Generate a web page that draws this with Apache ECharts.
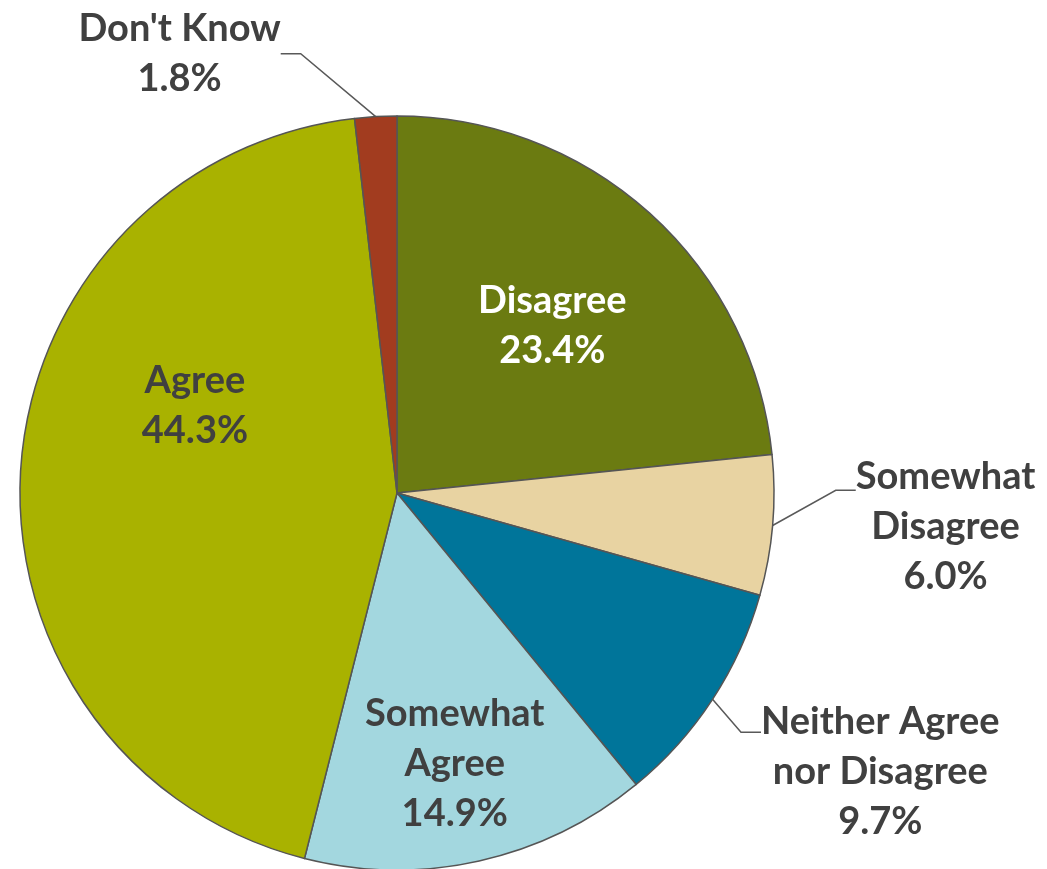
<!DOCTYPE html>
<html>
<head>
<meta charset="utf-8">
<script src="https://cdn.jsdelivr.net/npm/echarts@6/dist/echarts.min.js"></script>
<style>
html,body{margin:0;padding:0;background:#fff;}
#chart{width:1047px;height:869px;}
</style>
</head>
<body>
<div id="chart"></div>
<script>
// Data
var categories = ['Disagree', 'Somewhat Disagree', 'Neither Agree nor Disagree', 'Somewhat Agree', 'Agree', "Don't Know"];
var displayLabels = ['Disagree', 'Somewhat\nDisagree', 'Neither Agree\nnor Disagree', 'Somewhat\nAgree', 'Agree', "Don't Know"];
var values = [23.4, 6.0, 9.7, 14.9, 44.3, 1.8];

// Styles
var colors = ['#6B7B11', '#E8D3A2', '#00759A', '#A3D7DF', '#A9B200', '#A23C1F'];
var labelInside = [true, false, false, true, true, false];
var labelColors = ['#ffffff', '#404040', '#404040', '#404040', '#404040', '#404040'];
var labelOffsets = [[27, -25], [128, -37], [126, 22], [16, 84], [-11, -74], [-170, -43]];
var labelPadTop = [0, 74, 80, 0, 0, 0];

var chart = echarts.init(document.getElementById('chart'), null, {renderer: 'canvas'});

var data = categories.map(function (c, i) {
  var rich = {t: {}};
  if (labelPadTop[i] > 0) {
    rich.pad = {fontSize: 2, lineHeight: labelPadTop[i]};
  }
  return {
    name: c,
    value: values[i],
    itemStyle: {color: colors[i]},
    label: {
      position: labelInside[i] ? 'inside' : 'outside',
      color: labelColors[i],
      rich: rich
    },
    labelLine: {show: !labelInside[i]}
  };
});

chart.setOption({
  backgroundColor: '#ffffff',
  animation: false,
  series: [{
    type: 'pie',
    center: [397, 493],
    radius: 377,
    startAngle: 90,
    clockwise: true,
    avoidLabelOverlap: false,
    data: data,
    itemStyle: {borderColor: '#555555', borderWidth: 1.5},
    label: {
      fontFamily: 'Lato',
      fontWeight: 'bold',
      fontSize: 38,
      lineHeight: 50,
      formatter: function (p) {
        var i = p.dataIndex;
        var lines = (displayLabels[i] + '\n' + values[i].toFixed(1) + '%').split('\n');
        var s = lines.map(function (l) { return '{t|' + l + '}'; }).join('\n');
        if (labelPadTop[i] > 0) s = '{pad| }\n' + s;
        return s;
      }
    },
    labelLine: {
      length: 20,
      length2: 20,
      minTurnAngle: 0,
      lineStyle: {color: '#595959', width: 1.5}
    },
    labelLayout: function (p) {
      var i = p.dataIndex;
      var o = labelOffsets[i];
      if (labelInside[i]) {
        return {dx: o[0], dy: o[1], align: 'center'};
      }
      var r = p.labelRect;
      var ax = p.align === 'left' ? r.x : (p.align === 'right' ? r.x + r.width : r.x + r.width / 2);
      return {x: ax + o[0], y: r.y + r.height / 2 + o[1], align: 'center', verticalAlign: 'middle'};
    }
  }]
});
</script>
</body>
</html>
